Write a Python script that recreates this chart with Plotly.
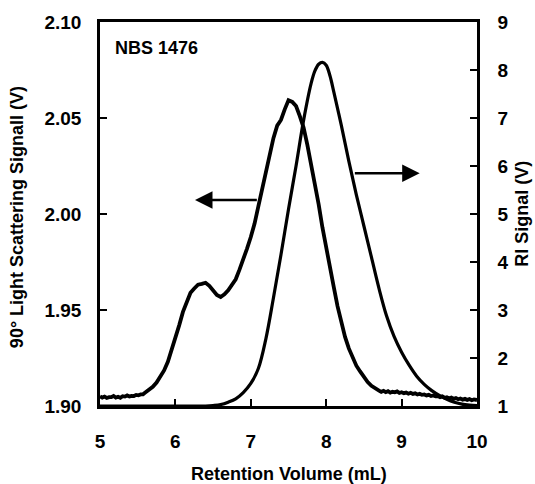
import plotly.graph_objects as go

# ---- data ----
ls_volume = [5.00, 5.03, 5.06, 5.09, 5.12, 5.15, 5.18, 5.21, 5.24, 5.27, 5.30, 5.33, 5.36, 5.39,
             5.42, 5.45, 5.48, 5.51, 5.54, 5.57, 5.60, 5.65,
             5.70, 5.75, 5.80, 5.85, 5.90, 5.95, 6.00, 6.05, 6.10, 6.15, 6.20, 6.25, 6.30, 6.35,
             6.40, 6.45, 6.50, 6.55, 6.60, 6.65, 6.70, 6.75, 6.80, 6.85, 6.90, 6.95, 7.00, 7.05,
             7.10, 7.15, 7.20, 7.25, 7.30, 7.35, 7.40, 7.45, 7.50, 7.55, 7.60, 7.65, 7.70, 7.75,
             7.80, 7.85, 7.90, 7.95, 8.00, 8.05, 8.10, 8.15, 8.20, 8.25, 8.30, 8.35, 8.40, 8.45,
             8.50, 8.55, 8.60, 8.65, 8.70, 8.73, 8.76, 8.79, 8.82, 8.85, 8.88, 8.91, 8.94, 8.97,
             9.00, 9.03, 9.06, 9.09, 9.12, 9.15, 9.18, 9.21, 9.24, 9.27, 9.30, 9.33, 9.36, 9.39,
             9.42, 9.45, 9.48, 9.51, 9.54, 9.57, 9.60, 9.63, 9.66, 9.69, 9.72, 9.75, 9.78, 9.81,
             9.84, 9.87, 9.90, 9.93, 9.96, 10.00]
ls_signal = [1.9050, 1.9044, 1.9049, 1.9042, 1.9046, 1.9046, 1.9052, 1.9044, 1.9048, 1.9043,
             1.9051, 1.9049, 1.9055, 1.9050, 1.9053, 1.9052, 1.9058, 1.9056, 1.9060, 1.9061,
             1.9070, 1.9085,
             1.9100, 1.9122, 1.9150, 1.9185, 1.9230, 1.9290, 1.9355, 1.9420, 1.9490, 1.9545,
             1.9590, 1.9612, 1.9632, 1.9636, 1.9642, 1.9626, 1.9605, 1.9578, 1.9568, 1.9582,
             1.9603, 1.9632, 1.9660, 1.9710, 1.9760, 1.9820, 1.9880, 1.9950, 2.0040, 2.0130,
             2.0220, 2.0310, 2.0395, 2.0460, 2.0490, 2.0545, 2.0592, 2.0584, 2.0562, 2.0510,
             2.0450, 2.0360, 2.0260, 2.0160, 2.0050, 1.9930, 1.9820, 1.9720, 1.9620, 1.9520,
             1.9430, 1.9360, 1.9300, 1.9250, 1.9210, 1.9180, 1.9150, 1.9125, 1.9105, 1.9090,
             1.9080, 1.9074, 1.9079, 1.9072, 1.9077, 1.9070, 1.9074, 1.9071, 1.9076, 1.9068,
             1.9072, 1.9067, 1.9070, 1.9064, 1.9069, 1.9063, 1.9066, 1.9060, 1.9064, 1.9058,
             1.9060, 1.9055, 1.9058, 1.9052, 1.9055, 1.9050, 1.9052, 1.9046, 1.9050, 1.9043,
             1.9046, 1.9040, 1.9044, 1.9037, 1.9041, 1.9035, 1.9039, 1.9033, 1.9037, 1.9032,
             1.9036, 1.9030, 1.9034, 1.9031, 1.9035, 1.9031]

ri_volume = [5.00, 5.50, 6.00, 6.30, 6.40, 6.50, 6.60, 6.70, 6.80, 6.90, 7.00, 7.10, 7.20,
             7.30, 7.40, 7.50, 7.60, 7.70, 7.80, 7.85, 7.90, 7.95, 8.00, 8.05, 8.10, 8.20,
             8.30, 8.40, 8.50, 8.60, 8.70, 8.80, 8.90, 9.00, 9.10, 9.20, 9.30, 9.40, 9.50,
             9.60, 9.70, 9.80, 9.90, 10.00]
ri_signal = [1.00, 1.00, 1.00, 1.00, 1.00, 1.01, 1.03, 1.08, 1.15, 1.28, 1.47, 1.78, 2.40,
             3.25, 4.15, 5.10, 6.00, 6.95, 7.72, 7.98, 8.12, 8.16, 8.10, 7.88, 7.55, 6.85,
             6.10, 5.40, 4.75, 4.10, 3.45, 2.88, 2.45, 2.12, 1.85, 1.62, 1.45, 1.32, 1.22,
             1.14, 1.08, 1.04, 1.02, 1.01]

x_ticks = [5, 6, 7, 8, 9, 10]
left_ticks = [1.90, 1.95, 2.00, 2.05, 2.10]
right_ticks = [1, 2, 3, 4, 5, 6, 7, 8, 9]

FONT = "Liberation Sans, Arial, sans-serif"

fig = go.Figure()
fig.add_trace(go.Scatter(x=ls_volume, y=ls_signal, mode="lines",
                         line=dict(color="black", width=3.8), yaxis="y", showlegend=False))
fig.add_trace(go.Scatter(x=ri_volume, y=ri_signal, mode="lines", line_shape="spline",
                         line=dict(color="black", width=3.2), yaxis="y2", showlegend=False))

axis_common = dict(showgrid=False, zeroline=False, showline=True, linecolor="black",
                   linewidth=2.5, ticks="inside", ticklen=7, tickwidth=2, tickcolor="black",
                   tickfont=dict(family=FONT, size=19, color="black", weight="bold"))

fig.update_layout(
    width=535, height=484,
    margin=dict(l=100, r=58, t=22, b=78),
    paper_bgcolor="white", plot_bgcolor="white",
    xaxis=dict(range=[5, 10], tickvals=x_ticks, mirror=True, ticklabelstandoff=16, **axis_common),
    yaxis=dict(range=[1.90, 2.10], tickvals=left_ticks, tickformat=".2f",
               ticklabelstandoff=12, **axis_common),
    yaxis2=dict(range=[1, 9], tickvals=right_ticks, overlaying="y", side="right",
                ticklabelstandoff=14, **axis_common),
    annotations=[
        dict(text="NBS 1476", xref="paper", yref="paper", x=0.0345, y=0.932,
             xanchor="left", yanchor="middle", showarrow=False,
             font=dict(family=FONT, size=18, color="black", weight="bold")),
        dict(text="Retention Volume (mL)", xref="paper", yref="paper", x=0.5, y=-0.177,
             xanchor="center", yanchor="middle", showarrow=False,
             font=dict(family=FONT, size=18, color="black", weight="bold")),
        dict(text="90° Light Scattering Signall (V)", xref="paper", yref="paper", x=-0.22, y=0.492,
             xanchor="center", yanchor="middle", textangle=-90, showarrow=False,
             font=dict(family=FONT, size=18, color="black", weight="bold")),
        dict(text="RI Signal (V)", xref="paper", yref="paper", x=1.119, y=0.5,
             xanchor="center", yanchor="middle", textangle=-90, showarrow=False,
             font=dict(family=FONT, size=18, color="black", weight="bold")),
        dict(text="", x=6.26, y=2.0073, xref="x", yref="y", ax=7.10, ay=2.0073,
             axref="x", ayref="y", showarrow=True, arrowhead=2, arrowwidth=2.5,
             arrowsize=1.4, arrowcolor="black"),
        dict(text="", x=9.24, y=5.85, xref="x", yref="y2", ax=8.36, ay=5.85,
             axref="x", ayref="y2", showarrow=True, arrowhead=2, arrowwidth=2.5,
             arrowsize=1.4, arrowcolor="black"),
    ],
)

fig.write_html("out.html")
